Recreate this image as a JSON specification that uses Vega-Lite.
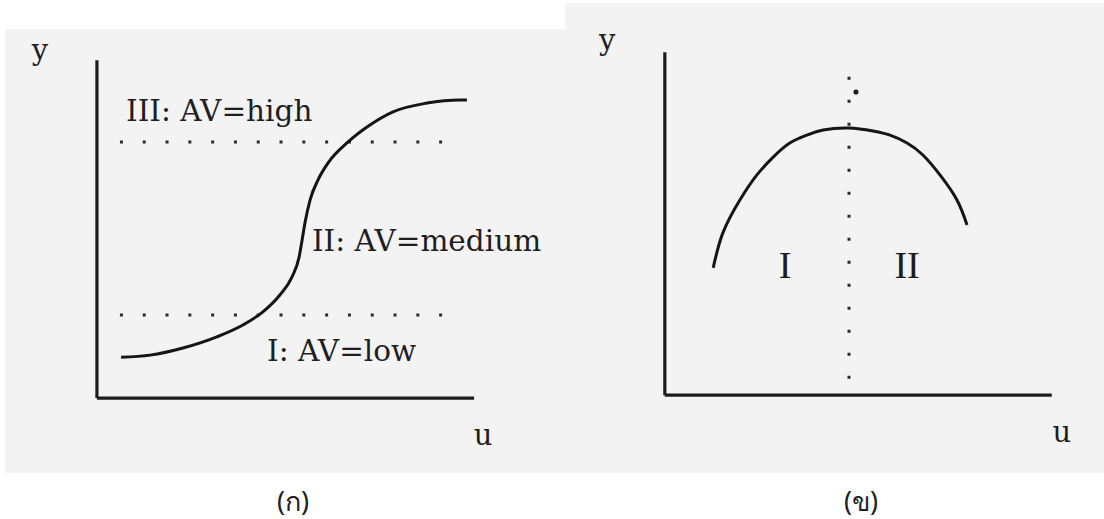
{
  "$schema": "https://vega.github.io/schema/vega-lite/v6.json",
  "padding": 0,
  "spacing": 0,
  "background": "#ffffff",
  "config": {"view": {"stroke": null}},
  "hconcat": [
    {
      "width": 565,
      "height": 519,
      "encoding": {
        "x": {"field": "u", "type": "quantitative", "axis": null, "scale": {"domain": [-2.57, 12.41], "nice": false, "zero": false}},
        "y": {"field": "v", "type": "quantitative", "axis": null, "scale": {"domain": [-3.58, 11.78], "nice": false, "zero": false}}
      },
      "layer": [
        {
          "data": {"values": [{"u": -2.44, "u2": 12.41, "v": 10.92, "v2": -2.22}]},
          "mark": {"type": "rect", "color": "#f3f3f3"},
          "encoding": {"x2": {"field": "u2"}, "y2": {"field": "v2"}}
        },
        {
          "data": {"values": [{"u": 0, "v": 0, "u2": 0, "v2": 10}, {"u": 0, "v": 0, "u2": 10, "v2": 0}]},
          "mark": {"type": "rule", "color": "#1c1c1c", "strokeWidth": 3.2},
          "encoding": {"x2": {"field": "u2"}, "y2": {"field": "v2"}}
        },
        {
          "data": {"values": [{"u": 0.61, "u2": 9.65, "v": 7.58}, {"u": 0.61, "u2": 9.65, "v": 2.46}]},
          "mark": {"type": "rule", "color": "#2a2a2a", "strokeWidth": 3, "strokeDash": [3, 19.8], "strokeCap": "butt"},
          "encoding": {"x2": {"field": "u2"}}
        },
        {
          "data": {"values": [
            {"u": 0.64, "v": 1.21}, {"u": 1.41, "v": 1.27}, {"u": 2.28, "v": 1.48}, {"u": 3.18, "v": 1.81},
            {"u": 3.87, "v": 2.16}, {"u": 4.40, "v": 2.55}, {"u": 4.85, "v": 3.05}, {"u": 5.17, "v": 3.58},
            {"u": 5.36, "v": 4.17}, {"u": 5.44, "v": 4.68}, {"u": 5.52, "v": 5.21}, {"u": 5.65, "v": 5.86},
            {"u": 5.86, "v": 6.45}, {"u": 6.13, "v": 6.96}, {"u": 6.66, "v": 7.58}, {"u": 7.16, "v": 8.02},
            {"u": 7.85, "v": 8.47}, {"u": 8.75, "v": 8.73}, {"u": 9.63, "v": 8.82}, {"u": 9.81, "v": 8.82}
          ]},
          "mark": {"type": "line", "color": "#151515", "strokeWidth": 3, "interpolate": "monotone"}
        },
        {
          "data": {"values": [
            {"u": 0.77, "v": 8.47, "label": "III: AV=high"},
            {"u": 5.70, "v": 4.62, "label": "II: AV=medium"},
            {"u": 4.51, "v": 1.36, "label": "I: AV=low"}
          ]},
          "mark": {"type": "text", "align": "left", "baseline": "middle", "font": "DejaVu Serif", "fontSize": 29.5, "color": "#1e1e1e"},
          "encoding": {"text": {"field": "label"}}
        },
        {
          "data": {"values": [{"u": -1.51, "v": 10.0, "label": "y"}, {"u": 10.24, "v": -1.39, "label": "u"}]},
          "mark": {"type": "text", "align": "center", "baseline": "alphabetic", "font": "DejaVu Serif", "fontSize": 29, "color": "#1e1e1e"},
          "encoding": {"text": {"field": "label"}}
        },
        {
          "data": {"values": [{"u": 5.20, "v": -3.11, "label": "(ก)"}]},
          "mark": {"type": "text", "align": "center", "baseline": "middle", "font": "Noto Sans, DejaVu Sans, sans-serif", "fontSize": 27, "color": "#222222"},
          "encoding": {"text": {"field": "label"}}
        }
      ]
    },
    {
      "width": 539,
      "height": 519,
      "encoding": {
        "x": {"field": "u", "type": "quantitative", "axis": null, "scale": {"domain": [-2.58, 11.35], "nice": false, "zero": false}},
        "y": {"field": "v", "type": "quantitative", "axis": null, "scale": {"domain": [-3.61, 11.52], "nice": false, "zero": false}}
      },
      "layer": [
        {
          "data": {"values": [{"u": -2.58, "u2": 11.35, "v": 11.43, "v2": -2.27}]},
          "mark": {"type": "rect", "color": "#f3f3f3"},
          "encoding": {"x2": {"field": "u2"}, "y2": {"field": "v2"}}
        },
        {
          "data": {"values": [{"u": 0, "v": 0, "u2": 0, "v2": 10}, {"u": 0, "v": 0, "u2": 10, "v2": 0}]},
          "mark": {"type": "rule", "color": "#1c1c1c", "strokeWidth": 3.2},
          "encoding": {"x2": {"field": "u2"}, "y2": {"field": "v2"}}
        },
        {
          "data": {"values": [{"u": 4.76, "v": 9.28, "v2": 0.44}]},
          "mark": {"type": "rule", "color": "#2a2a2a", "strokeWidth": 3, "strokeDash": [3, 20], "strokeCap": "butt"},
          "encoding": {"y2": {"field": "v2"}}
        },
        {
          "data": {"values": [{"u": 4.94, "v": 8.84}]},
          "mark": {"type": "point", "filled": true, "size": 26, "color": "#1e1e1e", "opacity": 1}
        },
        {
          "data": {"values": [
            {"u": 1.25, "v": 3.71}, {"u": 1.50, "v": 4.73}, {"u": 1.94, "v": 5.69}, {"u": 2.38, "v": 6.42},
            {"u": 2.80, "v": 6.94}, {"u": 3.23, "v": 7.35}, {"u": 3.67, "v": 7.58}, {"u": 4.09, "v": 7.73},
            {"u": 4.76, "v": 7.79}, {"u": 5.38, "v": 7.70}, {"u": 5.82, "v": 7.58}, {"u": 6.26, "v": 7.35},
            {"u": 6.67, "v": 7.00}, {"u": 7.11, "v": 6.42}, {"u": 7.55, "v": 5.69}, {"u": 7.81, "v": 4.96}
          ]},
          "mark": {"type": "line", "color": "#151515", "strokeWidth": 3, "interpolate": "natural"}
        },
        {
          "data": {"values": [{"u": 3.11, "v": 3.74, "label": "I"}, {"u": 6.26, "v": 3.74, "label": "II"}]},
          "mark": {"type": "text", "align": "center", "baseline": "middle", "font": "Liberation Serif", "fontSize": 38, "color": "#1e1e1e"},
          "encoding": {"text": {"field": "label"}}
        },
        {
          "data": {"values": [{"u": -1.49, "v": 10.05, "label": "y"}, {"u": 10.26, "v": -1.37, "label": "u"}]},
          "mark": {"type": "text", "align": "center", "baseline": "alphabetic", "font": "DejaVu Serif", "fontSize": 29, "color": "#1e1e1e"},
          "encoding": {"text": {"field": "label"}}
        },
        {
          "data": {"values": [{"u": 5.07, "v": -3.14, "label": "(ข)"}]},
          "mark": {"type": "text", "align": "center", "baseline": "middle", "font": "Noto Sans, DejaVu Sans, sans-serif", "fontSize": 27, "color": "#222222"},
          "encoding": {"text": {"field": "label"}}
        }
      ]
    }
  ]
}
